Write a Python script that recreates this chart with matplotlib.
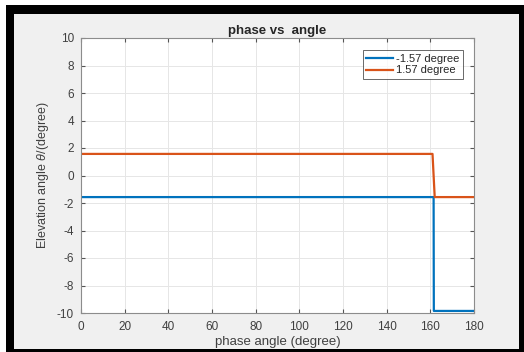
import matplotlib
matplotlib.use("Agg")
import matplotlib.pyplot as plt
from matplotlib.patches import Rectangle

plt.rcParams['font.family'] = ['Liberation Sans', 'DejaVu Sans']
plt.rcParams['mathtext.fontset'] = 'custom'
plt.rcParams['mathtext.it'] = 'Liberation Sans:italic'
plt.rcParams['axes.unicode_minus'] = False

# data
blue_x = [0, 161.5, 161.6, 180]
blue_y = [-1.57, -1.57, -9.85, -9.85]
orange_x = [0, 161, 162, 180]
orange_y = [1.57, 1.57, -1.57, -1.57]
labels = ['-1.57 degree', '1.57 degree']
xticks = list(range(0, 181, 20))
yticks = list(range(-10, 11, 2))

W, H = 524, 352
fig = plt.figure(figsize=(W/100, H/100), dpi=100, facecolor='white')
# black frame and gray panel
fig.patches.append(Rectangle((6/W, 0), 1-6/W, 1-5/H, transform=fig.transFigure,
                             facecolor='black', edgecolor='none', zorder=-2))
fig.patches.append(Rectangle((14/W, 3/H), (519-14)/W, (349-14)/H,
                             transform=fig.transFigure, facecolor='#f0f0f0',
                             edgecolor='none', zorder=-1))

left, right, top, bottom = 81, 474, 38, 313
ax = fig.add_axes([left/W, 1-bottom/H, (right-left)/W, (bottom-top)/H])
ax.set_facecolor('white')
ax.plot(blue_x, blue_y, color='#0072BD', lw=1.6, label=labels[0])
ax.plot(orange_x, orange_y, color='#D95319', lw=1.6, label=labels[1])
ax.set_xlim(0, 180)
ax.set_ylim(-10, 10)
ax.set_xticks(xticks)
ax.set_yticks(yticks)
ax.grid(True, color='#e6e6e6', lw=0.7)
ax.tick_params(direction='in', top=True, right=True, labelsize=8.5, length=3,
               color='#555555', labelcolor='#404040')
ax.tick_params(axis='x', pad=6)
ax.tick_params(axis='y', pad=5)
for s in ax.spines.values():
    s.set_color('#8c8c8c')
    s.set_linewidth(0.8)
ax.set_title('phase vs  angle', fontsize=9.5, fontweight='bold', color='#262626', pad=3)
ax.set_xlabel('phase angle (degree)', fontsize=9.5, color='#404040', labelpad=2)
ax.set_ylabel(r'Elevation angle $\theta$/(degree)', fontsize=9, color='#404040', labelpad=4)
leg = ax.legend(loc='upper right', fontsize=8, frameon=True, fancybox=False,
                edgecolor='#262626', handlelength=2.4, borderpad=0.3, labelspacing=0.15,
                handletextpad=0.3, bbox_to_anchor=(0.985, 0.975))
leg.get_frame().set_linewidth(0.6)
for t in leg.get_texts():
    t.set_color('#262626')
fig.savefig('out.png', dpi=100, facecolor='white')
